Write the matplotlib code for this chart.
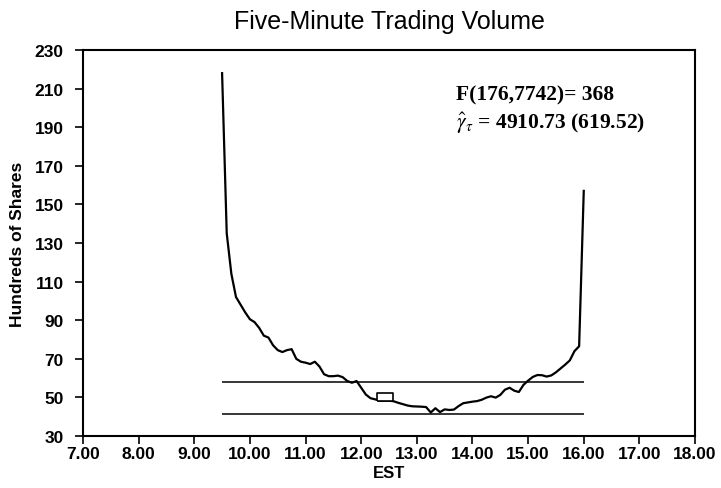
import numpy as np
from matplotlib import pyplot as plt

# five-minute intervals, 9.30 to 16.00 EST (decimal hours)
vrijeme = 9.5 + np.arange(79) / 12.0

# hundreds of shares per interval
volumen = [218, 135, 114, 102, 98, 94, 90.5, 89, 86, 82,
           81, 77, 74.5, 73.5, 74.5, 75, 70, 68.5, 68, 67.3,
           68.5, 66, 62, 61, 61, 61.3, 60.5, 58.5, 57.6, 58.5,
           55, 51.5, 49.6, 49, 48.3, 48.3, 48.3, 48, 47.2, 46.5,
           45.8, 45.4, 45.3, 45.2, 45, 42.2, 44.4, 42.4, 43.8, 43.5,
           43.7, 45.5, 47, 47.4, 47.8, 48.1, 48.8, 49.9, 50.6, 49.9,
           51.3, 54, 55, 53.5, 52.8, 56.5, 58.7, 60.6, 61.6, 61.5,
           60.8, 61.4, 63, 65, 67, 69.2, 74, 76.5, 157]

gornja_granica = 58.1
donja_granica = 41.4
minimum_t, minimum_v = 12.43, 50.0

xtikovi = np.arange(7, 19, 1)
ytikovi = np.arange(30, 231, 20)

plt.rcParams['font.family'] = ['Liberation Sans', 'DejaVu Sans']
plt.rcParams['mathtext.fontset'] = 'stix'

fig = plt.figure(figsize=(7.21, 4.89), dpi=100)
ax = fig.add_axes([0.1151, 0.1063, 0.8489, 0.7894])

ax.plot(vrijeme, volumen, color='black', linewidth=1.6)
ax.hlines([gornja_granica, donja_granica], vrijeme[0], vrijeme[-1],
          color='black', linewidth=1.1)

# open box at the minimum
pravougaonik = [(-1, -0.55), (1, -0.55), (1, 0.55), (-1, 0.55), (-1, -0.55)]
ax.plot([minimum_t], [minimum_v], marker=pravougaonik, markersize=11,
        markerfacecolor='white', markeredgecolor='black', markeredgewidth=1.2,
        linestyle='none')

ax.set_xlim(7, 18)
ax.set_ylim(30, 230)
ax.set_xticks(xtikovi)
ax.set_xticklabels(['%.2f' % t for t in xtikovi])
ax.set_yticks(ytikovi)
ax.tick_params(direction='out', length=6, width=1.2, labelsize=12.5)
ax.tick_params(axis='x', pad=1)
ax.tick_params(axis='y', pad=8)
for lab in ax.get_xticklabels() + ax.get_yticklabels():
    lab.set_fontweight('bold')
for s in ax.spines.values():
    s.set_linewidth(1.5)

ax.set_title('Five-Minute Trading Volume', fontsize=18, pad=16)
ax.set_xlabel('EST', fontsize=12, fontweight='bold', labelpad=3)
ax.set_ylabel('Hundreds of Shares', fontsize=12.5, fontweight='bold', labelpad=7)

ax.text(13.71, 206.7, 'F(176,7742)= 368', fontsize=15.5, family='Liberation Serif',
        fontweight='bold', va='center')
ax.text(13.71, 192.7, r'$\hat{\gamma}_\tau$ = 4910.73 (619.52)', fontsize=15.5,
        family='Liberation Serif', fontweight='bold', va='center')

plt.savefig('out.png', dpi=100)
